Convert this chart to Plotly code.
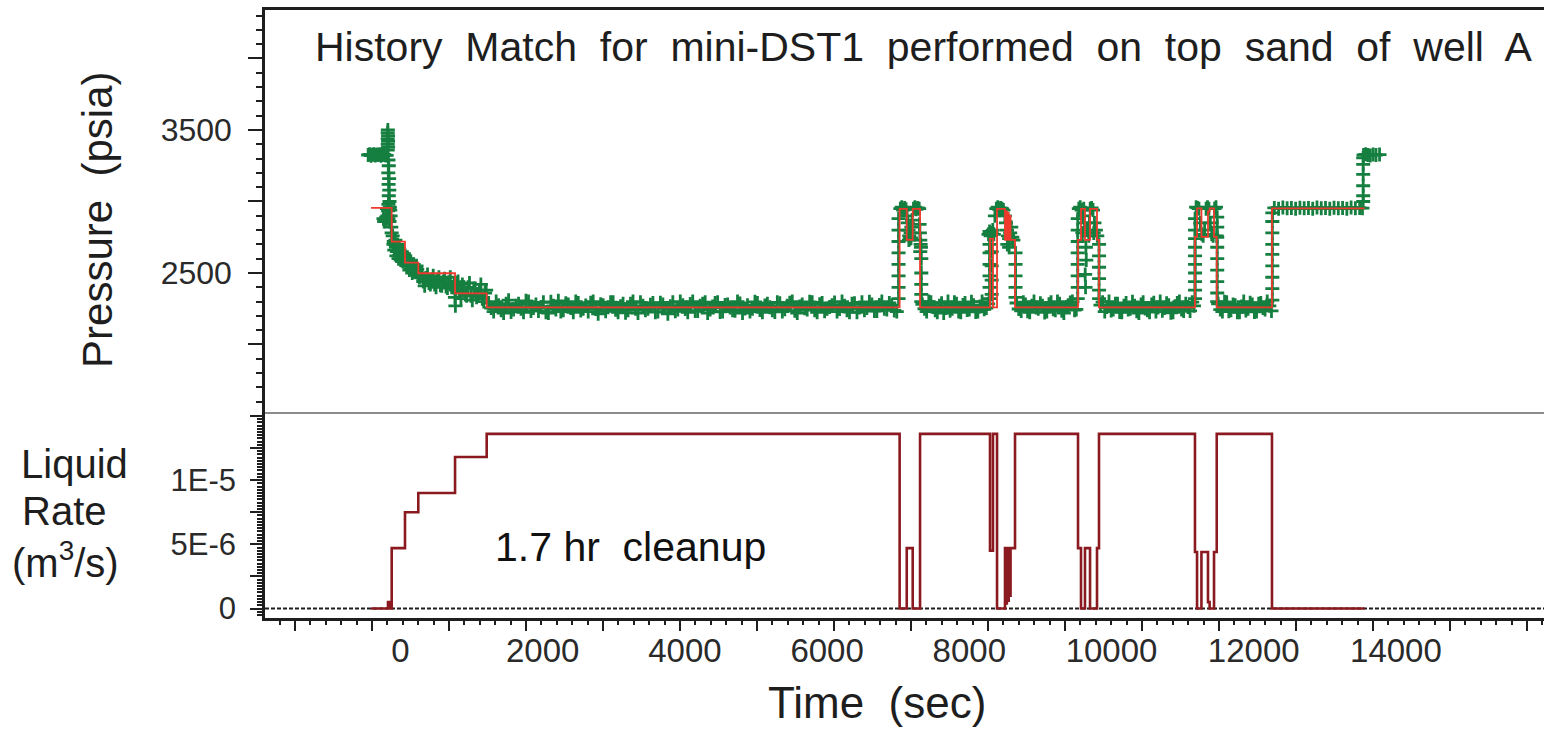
import plotly.graph_objects as go

# ------------------------------------------------------------------
# Model (step) data: switching times [s], liquid rate [1e-6 m3/s], model pressure [psia]
# ------------------------------------------------------------------
step_time = [-415, -176, -150, -124, 63, 250, 767, 1212,
             7020, 7120, 7204, 7307,
             8291, 8333, 8390, 8502, 8515, 8528, 8541, 8554, 8567, 8580, 8643,
             9529, 9571, 9627, 9698, 9796, 9824,
             11174, 11203, 11265, 11357, 11380, 11442, 11480,
             12257, 13560]
rate_e6 = [0, 0.5, 0, 4.7, 7.5, 9.0, 11.8, 13.6,
           0, 4.7, 0, 13.6,
           4.5, 13.6, 0, 4.7, 0.4, 4.7, 0.6, 4.7, 1.0, 4.7, 13.6,
           4.7, 0, 4.7, 0, 4.7, 13.6,
           4.4, 0, 4.4, 0.5, 0, 4.4, 13.6,
           0, 0]
model_psia = [2955, 2955, 2955, 2719, 2572, 2498, 2358, 2260,
              2948, 2731, 2948, 2260,
              2740, 2260, 2948, 2731, 2930, 2731, 2920, 2731, 2900, 2731, 2260,
              2731, 2948, 2731, 2948, 2731, 2260,
              2752, 2952, 2752, 2930, 2952, 2752, 2260,
              2952, 2952]

# ------------------------------------------------------------------
# Measured gauge pressure (green +), read off the picture, by phase
# ------------------------------------------------------------------
static_t = [-455, -435, -415, -395, -375, -355, -335, -315, -295, -275, -255, -235, -215, -195]
static_p = [3325, 3330, 3320, 3326, 3330, 3322, 3328, 3325, 3331, 3320, 3326, 3330, 3324, 3322]

open_t = [-180, -180, -180, -180, -178, -175, -175, -175, -170, -165, -172, -160, -168, -158, -165,
          -155, -170, -150, -190, -175, -160, -145, -185, -170, -155, -140, -130, -125, -200, -210,
          -240, -230]
open_p = [3360, 3400, 3440, 3480, 3500, 3460, 3420, 3380, 3290, 3250, 3200, 3160, 3120, 3080, 3040,
          3000, 2980, 2960, 2950, 2935, 2950, 2940, 2900, 2880, 2860, 2900, 2820, 2780, 2890, 2870,
          2880, 2860]

cleanup_t = [-110, -95, -80, -65, -50, -35, -20, -5, 10, 25, 40, 55, 75, 95, 115, 135, 155, 175,
             195, 215, 235, 255, 280, 320, 360, 400, 440, 480, 520, 560, 600, 640, 680, 720, 755,
             765, 772, 790, 830, 870, 910, 950, 990, 1030, 1070, 1110, 1150, 1190]
cleanup_p = [2760, 2720, 2700, 2680, 2650, 2690, 2620, 2640, 2610, 2630, 2600, 2620, 2590, 2550,
             2570, 2530, 2555, 2515, 2540, 2505, 2525, 2495, 2475, 2440, 2465, 2430, 2455, 2420,
             2450, 2415, 2440, 2405, 2435, 2400, 2425, 2330, 2270, 2410, 2370, 2420, 2350, 2400,
             2340, 2390, 2330, 2380, 2320, 2360]
cleanup2_t = [-100, -88, -72, -58, -42, -28, -12, 3, 18, 32, 48, 65, 85, 105, 125, 145, 165, 185,
              205, 225, 245, 265, 300, 340, 380, 420, 460, 500, 540, 580, 620, 660, 700, 740, 780,
              810, 850, 890, 930, 970, 1010, 1050, 1090, 1130, 1170, 1205]
cleanup2_p = [2700, 2660, 2730, 2620, 2700, 2600, 2660, 2590, 2650, 2580, 2635, 2590, 2560, 2600,
              2520, 2580, 2500, 2560, 2510, 2550, 2490, 2470, 2500, 2410, 2490, 2420, 2480, 2400,
              2470, 2410, 2460, 2395, 2470, 2400, 2380, 2440, 2320, 2400, 2340, 2430, 2310, 2390,
              2350, 2420, 2300, 2380]

flow1_t = [1240, 1310, 1380, 1450, 1520, 1590, 1660, 1730, 1800, 1870,
           1940, 2010, 2080, 2150, 2220, 2290, 2360, 2430, 2500, 2570,
           2640, 2710, 2780, 2850, 2920, 2990, 3060, 3130, 3200, 3270,
           3340, 3410, 3480, 3550, 3620, 3690, 3760, 3830, 3900, 3970,
           4040, 4110, 4180, 4250, 4320, 4390, 4460, 4530, 4600, 4670,
           4740, 4810, 4880, 4950, 5020, 5090, 5160, 5230, 5300, 5370,
           5440, 5510, 5580, 5650, 5720, 5790, 5860, 5930, 6000, 6070,
           6140, 6210, 6280, 6350, 6420, 6490, 6560, 6630, 6700, 6770,
           6840, 6910, 6980]
flow1_p = [2290, 2230, 2275, 2220, 2310, 2245, 2285, 2225, 2300, 2255,
           2235, 2295, 2220, 2270, 2305, 2240, 2280, 2225, 2290, 2250,
           2230, 2300, 2215, 2275, 2260, 2295, 2225, 2285, 2240, 2300,
           2220, 2270, 2250, 2290, 2230, 2280, 2215, 2295, 2245, 2275,
           2225, 2300, 2235, 2285, 2220, 2265, 2295, 2230, 2280, 2240,
           2300, 2220, 2275, 2250, 2290, 2225, 2285, 2240, 2295, 2230,
           2270, 2300, 2220, 2280, 2245, 2295, 2225, 2290, 2250, 2275,
           2230, 2300, 2240, 2285, 2225, 2295, 2255, 2280, 2235, 2300,
           2245, 2275, 2230]
flow1b_t = [1275, 1345, 1415, 1485, 1555, 1625, 1695, 1765, 1835, 1905,
            1975, 2045, 2115, 2185, 2255, 2325, 2395, 2465, 2535, 2605,
            2675, 2745, 2815, 2885, 2955, 3025, 3095, 3165, 3235, 3305,
            3375, 3445, 3515, 3585, 3655, 3725, 3795, 3865, 3935, 4005,
            4075, 4145, 4215, 4285, 4355, 4425, 4495, 4565, 4635, 4705,
            4775, 4845, 4915, 4985, 5055, 5125, 5195, 5265, 5335, 5405,
            5475, 5545, 5615, 5685, 5755, 5825, 5895, 5965, 6035, 6105,
            6175, 6245, 6315, 6385, 6455, 6525, 6595, 6665, 6735, 6805,
            6875, 6945]
flow1b_p = [2255, 2300, 2240, 2285, 2228, 2270, 2250, 2305, 2235, 2280,
            2262, 2225, 2298, 2245, 2230, 2288, 2255, 2300, 2238, 2272,
            2292, 2248, 2282, 2232, 2296, 2243, 2268, 2222, 2285, 2250,
            2295, 2240, 2278, 2226, 2292, 2255, 2268, 2232, 2300, 2248,
            2283, 2235, 2270, 2296, 2244, 2290, 2228, 2276, 2258, 2236,
            2286, 2252, 2230, 2298, 2242, 2272, 2260, 2228, 2288, 2246,
            2292, 2236, 2266, 2254, 2298, 2240, 2282, 2232, 2262, 2294,
            2248, 2270, 2226, 2288, 2258, 2240, 2298, 2234, 2276, 2250,
            2290, 2238]

cyc1_t = [7005, 7005, 7005, 7005, 7005, 7005, 7005, 7005, 7030, 7050, 7070, 7090, 7110,
          7125, 7135, 7145, 7155, 7165, 7175, 7185, 7195, 7150, 7180,
          7215, 7235, 7255, 7275, 7295, 7300, 7305, 7310, 7315, 7320, 7310,
          7325, 7325, 7325, 7325, 7325]
cyc1_p = [2320, 2400, 2480, 2560, 2640, 2720, 2800, 2880, 2950, 2960, 2940, 2955, 2945,
          2900, 2850, 2800, 2760, 2740, 2780, 2820, 2870, 2730, 2745,
          2950, 2960, 2945, 2955, 2950, 2840, 2780, 2730, 2700, 2680, 2650,
          2600, 2500, 2420, 2350, 2300]

flow2_t = [7340, 7370, 7400, 7430, 7460, 7490, 7520, 7550, 7580, 7610, 7640, 7670, 7700, 7730,
           7760, 7790, 7820, 7850, 7880, 7910, 7940, 7970, 8000, 8030, 8060, 8090, 8120, 8150,
           8180, 8210, 8240, 8265]
flow2_p = [2280, 2250, 2230, 2300, 2295, 2262, 2240, 2226, 2270, 2288, 2220, 2256, 2300, 2236,
           2250, 2296, 2285, 2230, 2225, 2276, 2290, 2242, 2245, 2298, 2275, 2228, 2230, 2266,
           2300, 2246, 2255, 2284]

cyc2_t = [8285, 8285, 8285, 8285, 8285, 8285, 8315, 8315, 8315, 8315,
          8270, 8285, 8300, 8315, 8330, 8345,
          8360, 8380, 8400, 8420, 8440, 8460, 8480,
          8500, 8515, 8530, 8545, 8560, 8575, 8590, 8605, 8620, 8535, 8560,
          8650, 8650, 8650, 8650, 8650]
cyc2_p = [2320, 2400, 2480, 2560, 2640, 2700, 2350, 2450, 2550, 2650,
          2770, 2790, 2760, 2780, 2800, 2770,
          2900, 2950, 2960, 2945, 2955, 2950, 2940,
          2900, 2850, 2800, 2760, 2740, 2780, 2820, 2750, 2730, 2700, 2680,
          2640, 2560, 2480, 2400, 2330]

flow3_t = [8665, 8695, 8730, 8760, 8790, 8820, 8850, 8880, 8910, 8940, 8970, 9000, 9030, 9060,
           9090, 9120, 9150, 9180, 9210, 9240, 9270, 9300, 9330, 9360, 9390, 9420, 9450, 9480,
           9505]
flow3_p = [2290, 2248, 2235, 2296, 2280, 2232, 2225, 2270, 2300, 2258, 2250, 2288, 2270, 2224,
           2230, 2282, 2295, 2246, 2240, 2300, 2285, 2236, 2220, 2262, 2275, 2294, 2300, 2240,
           2245]

cyc3_t = [9525, 9525, 9525, 9525, 9525, 9525, 9525, 9525, 9640, 9645, 9630, 9635,
          9540, 9560, 9580, 9600, 9620, 9660, 9680, 9700, 9720, 9740, 9760, 9780, 9800,
          9590, 9750, 9610, 9690, 9825, 9825, 9825, 9825, 9825, 9825]
cyc3_p = [2320, 2400, 2480, 2560, 2640, 2720, 2800, 2880, 2680, 2590, 2490, 2400,
          2950, 2960, 2940, 2900, 2850, 2800, 2760, 2950, 2955, 2940, 2850, 2800, 2760,
          2780, 2780, 2950, 2850, 2700, 2620, 2540, 2460, 2380, 2320]

flow4_t = [9845, 9875, 9905, 9935, 9965, 9995, 10025, 10055, 10085, 10115, 10145, 10175,
           10205, 10235, 10265, 10295, 10325, 10355, 10385, 10415, 10445, 10475, 10505, 10535,
           10565, 10595, 10625, 10655, 10685, 10715, 10745, 10775, 10805, 10835, 10865, 10895,
           10925, 10955, 10985, 11015, 11045, 11075, 11105, 11135, 11160]
flow4_p = [2275, 2296, 2230, 2262, 2300, 2238, 2245, 2284, 2285, 2228, 2225, 2270, 2290, 2244,
           2250, 2298, 2270, 2232, 2220, 2280, 2295, 2252, 2240, 2226, 2280, 2292, 2230, 2258,
           2300, 2236, 2255, 2288, 2275, 2222, 2225, 2268, 2290, 2300, 2245, 2234, 2285, 2262,
           2235, 2296, 2270]

cyc4_t = [11175, 11175, 11175, 11175, 11175, 11175, 11175, 11175, 11175, 11175,
          11190, 11210, 11230, 11250, 11270, 11290, 11310, 11330, 11350, 11370,
          11390, 11410, 11430, 11450, 11470, 11480,
          11487, 11487, 11487, 11487, 11487, 11487, 11487, 11487, 11487]
cyc4_p = [2320, 2380, 2440, 2500, 2560, 2620, 2680, 2740, 2800, 2880,
          2960, 2955, 2950, 2850, 2770, 2760, 2800, 2950, 2960, 2950,
          2850, 2770, 2760, 2950, 2960, 2760,
          2890, 2820, 2750, 2680, 2600, 2520, 2440, 2360, 2300]

flow5_t = [11500, 11530, 11560, 11590, 11620, 11650, 11680, 11710, 11740, 11770, 11800, 11830,
           11860, 11890, 11920, 11950, 11980, 12010, 12040, 12070, 12100, 12130, 12160, 12190,
           12220, 12250]
flow5_p = [2285, 2244, 2230, 2298, 2295, 2232, 2240, 2280, 2275, 2226, 2225, 2266, 2300, 2238,
           2250, 2292, 2280, 2228, 2230, 2284, 2290, 2256, 2245, 2300, 2270, 2235]

shutin_t = [12262, 12262, 12262, 12262, 12262, 12262, 12262, 12262, 12262,
            12290, 12350, 12410, 12470, 12530, 12590, 12650, 12710, 12770, 12830, 12890,
            12950, 13010, 13070, 13130, 13190, 13250, 13310, 13370, 13430, 13490, 13530,
            13540, 13540, 13540, 13540, 13540, 13540,
            13545, 13575, 13605, 13640, 13680, 13720, 13770]
shutin_p = [2310, 2390, 2470, 2550, 2630, 2700, 2780, 2860, 2920,
            2955, 2950, 2958, 2952, 2955, 2950, 2957, 2953, 2955, 2950, 2958,
            2952, 2955, 2950, 2957, 2953, 2955, 2950, 2958, 2952, 2955, 2953,
            3000, 3040, 3110, 3190, 3260, 3305,
            3325, 3330, 3325, 3322, 3328, 3325, 3328]

meas_t, meas_p = [], []
for ts, ps in [(static_t, static_p), (open_t, open_p), (cleanup_t, cleanup_p),
               (cleanup2_t, cleanup2_p), (flow1_t, flow1_p), (flow1b_t, flow1b_p),
               (cyc1_t, cyc1_p), (flow2_t, flow2_p), (cyc2_t, cyc2_p), (flow3_t, flow3_p),
               (cyc3_t, cyc3_p), (flow4_t, flow4_p), (cyc4_t, cyc4_p), (flow5_t, flow5_p),
               (shutin_t, shutin_p)]:
    for t, p in zip(ts, ps):
        meas_t.append(t)
        meas_p.append(p)

rate = [v * 1e-6 for v in rate_e6]

x_tick_vals = [0, 2000, 4000, 6000, 8000, 10000, 12000, 14000]
x_tick_text = ["0", "2000", "4000", "6000", "8000", "10000", "12000", "14000"]
p_tick_vals = [2000, 2500, 3000, 3500, 4000]
p_tick_text = ["", "2500", "", "3500", ""]
q_tick_vals = [0, 2.5e-6, 5e-6, 7.5e-6, 1e-5, 1.25e-5, 1.5e-5]
q_tick_text = ["0", "", "5E-6", "", "1E-5", "", ""]

FONT = "Liberation Sans, Arial, Helvetica, sans-serif"
INK = "#1e1e1e"
GREEN = "#157f40"
RED = "#ee3a2c"
DARKRED = "#8a1a20"

X_RANGE = [-1906, 16083]
SPLIT = 0.3372

fig = go.Figure()

fig.add_trace(go.Scatter(
    x=meas_t, y=meas_p, xaxis="x2", yaxis="y2", mode="markers",
    marker=dict(symbol="cross-thin", size=10, color=GREEN,
                line=dict(color=GREEN, width=2.8)),
    showlegend=False, hoverinfo="skip"))

fig.add_trace(go.Scatter(
    x=step_time, y=model_psia, xaxis="x2", yaxis="y2", mode="lines",
    line=dict(color=RED, width=1.8, shape="hv"),
    showlegend=False, hoverinfo="skip"))

fig.add_trace(go.Scatter(
    x=step_time, y=rate, xaxis="x", yaxis="y", mode="lines",
    line=dict(color=DARKRED, width=2.6, shape="hv"),
    showlegend=False, hoverinfo="skip"))

# invisible anchor so the tick-mark overlay axis is drawn
fig.add_trace(go.Scatter(
    x=step_time[:1], y=rate[:1], xaxis="x3", yaxis="y", mode="markers",
    marker=dict(opacity=0, size=1), showlegend=False, hoverinfo="skip"))

fig.update_layout(
    width=1544, height=729,
    margin=dict(l=265, r=0, t=10, b=111),
    paper_bgcolor="white", plot_bgcolor="white",
    font=dict(family=FONT, color=INK),
    xaxis=dict(domain=[0, 1], anchor="y", range=X_RANGE,
               tickmode="array", tickvals=x_tick_vals, ticktext=x_tick_text,
               ticks="", showgrid=False, zeroline=False,
               showline=True, linecolor=INK, linewidth=2.5,
               tickfont=dict(size=33, color="#2a2a2a"), ticklabelstandoff=2),
    xaxis3=dict(overlaying="x", anchor="y", side="bottom", range=X_RANGE,
                tick0=-401, dtick=1083, ticks="outside", ticklen=12, tickwidth=2.2,
                tickcolor=INK, showticklabels=False, showgrid=False, zeroline=False,
                showline=False,
                minor=dict(ticks="outside", tick0=-401, dtick=216.6, ticklen=6,
                           tickwidth=2, tickcolor=INK, showgrid=False)),
    xaxis2=dict(domain=[0, 1], anchor="y2", range=X_RANGE, side="top",
                showticklabels=False, ticks="", showgrid=False, zeroline=False,
                showline=True, linecolor=INK, linewidth=2.5),
    yaxis=dict(domain=[0, SPLIT], anchor="x", range=[-0.74e-6, 15.23e-6],
               tickmode="array", tickvals=q_tick_vals, ticktext=q_tick_text,
               ticks="outside", ticklen=12, tickwidth=2, tickcolor=INK,
               minor=dict(ticks="outside", dtick=2.5e-7, ticklen=5, tickwidth=1.6,
                          tickcolor=INK, showgrid=False),
               showgrid=False, zeroline=False, showline=True, linecolor=INK,
               linewidth=2.5, tickfont=dict(size=31, color="#2a2a2a"),
               ticklabelstandoff=8),
    yaxis2=dict(domain=[SPLIT, 1], anchor="x2", range=[1521, 4339],
                tickmode="array", tickvals=p_tick_vals, ticktext=p_tick_text,
                ticks="outside", ticklen=14, tickwidth=2.2, tickcolor=INK,
                minor=dict(ticks="outside", dtick=100, ticklen=6, tickwidth=2,
                           tickcolor=INK, showgrid=False),
                showgrid=False, zeroline=False, showline=True, linecolor=INK,
                linewidth=2.5, tickfont=dict(size=32, color="#2a2a2a"),
                ticklabelstandoff=10),
    shapes=[
        dict(type="line", xref="paper", yref="paper", x0=0, x1=1, y0=SPLIT, y1=SPLIT,
             line=dict(color="#666666", width=1.3)),
        dict(type="line", xref="x domain", yref="y", x0=0, x1=1, y0=0, y1=0,
             line=dict(color=INK, width=2, dash="4px,2px"), layer="below"),
    ],
    annotations=[
        dict(text="History\u00a0 Match\u00a0 for\u00a0 mini-DST1\u00a0 performed\u00a0 on\u00a0 top\u00a0 sand\u00a0 of\u00a0 well\u00a0 A",
             xref="paper", yref="paper", x=0.5152, y=0.9391, xanchor="center", yanchor="middle",
             showarrow=False, font=dict(size=41, color=INK)),
        dict(text="Pressure\u00a0 (psia)", xref="paper", yref="paper", x=-0.1314, y=0.6546,
             xanchor="center", yanchor="middle", textangle=-90, showarrow=False,
             font=dict(size=42, color=INK)),
        dict(text="Liquid", xref="paper", yref="paper", x=-0.1493, y=0.2533,
             xanchor="center", yanchor="middle", showarrow=False, font=dict(size=40, color=INK)),
        dict(text="Rate", xref="paper", yref="paper", x=-0.1564, y=0.1760,
             xanchor="center", yanchor="middle", showarrow=False, font=dict(size=40, color=INK)),
        dict(text="(m<sup>3</sup>/s)", xref="paper", yref="paper", x=-0.1556, y=0.0954,
             xanchor="center", yanchor="middle", showarrow=False, font=dict(size=40, color=INK)),
        dict(text="1.7 hr\u00a0 cleanup", xref="paper", yref="paper", x=0.2854, y=0.1168,
             xanchor="center", yanchor="middle", showarrow=False, font=dict(size=41, color="#111111")),
        dict(text="Time\u00a0 (sec)", xref="paper", yref="paper", x=0.4785, y=-0.1382,
             xanchor="center", yanchor="middle", showarrow=False, font=dict(size=44, color=INK)),
    ],
)

fig.write_html("out.html")
